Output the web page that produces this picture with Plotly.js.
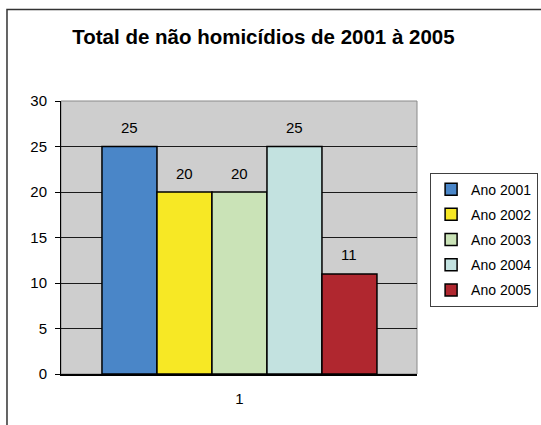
<!DOCTYPE html>
<html>
<head>
<meta charset="utf-8">
<script src="https://cdn.plot.ly/plotly-3.0.1.min.js"></script>
<style>html,body{margin:0;padding:0;background:#fff;}</style>
</head>
<body>
<div id="chart" style="width:541px;height:425px;"></div>
<script>
var categories = ['1'];
var seriesNames = ['Ano 2001', 'Ano 2002', 'Ano 2003', 'Ano 2004', 'Ano 2005'];
var seriesValues = [25, 20, 20, 25, 11];
var seriesColors = ['#4A86C8', '#F7E825', '#CAE3B7', '#C3E2E0', '#B0272F'];
var yTicks = [0, 5, 10, 15, 20, 25, 30];

var FONT = 'Liberation Sans, Arial, sans-serif';

var traces = seriesNames.map(function (name, i) {
  return {
    type: 'bar',
    name: name,
    legendgroup: 'g' + i,
    x: [name],
    y: [seriesValues[i]],
    marker: { color: seriesColors[i], line: { color: '#000', width: 1.5 } },
    hoverinfo: 'name+y'
  };
});

var annotations = seriesNames.map(function (name, i) {
  return {
    x: name, y: seriesValues[i], xref: 'x', yref: 'y',
    text: String(seriesValues[i]), showarrow: false,
    yanchor: 'middle', yshift: 19,
    font: { family: FONT, size: 15, color: '#000' }
  };
});

var layout = {
  width: 541, height: 425,
  margin: { l: 61, r: 124, t: 101, b: 51 },
  paper_bgcolor: '#ffffff',
  plot_bgcolor: '#CECECE',
  font: { family: FONT, size: 15, color: '#000' },
  title: {
    text: '<b>Total de não homicídios de 2001 à 2005</b>',
    font: { family: FONT, size: 20.5, color: '#000' },
    x: 0.487, xref: 'container', xanchor: 'center',
    y: 0.913, yref: 'container', yanchor: 'middle'
  },
  barmode: 'overlay',
  bargap: 0,
  showlegend: true,
  legend: {
    xref: 'container', yref: 'container',
    x: 0.795, y: 0.594, xanchor: 'left', yanchor: 'top',
    bgcolor: '#fff', bordercolor: '#404040', borderwidth: 1,
    font: { family: FONT, size: 14, color: '#000' },
    tracegroupgap: 4
  },
  xaxis: {
    type: 'category',
    categoryorder: 'array', categoryarray: seriesNames,
    range: [-1.245, 5.228],
    tickvals: [seriesNames[2]], ticktext: categories,
    ticks: '', ticklabelstandoff: 10,
    showline: true, linecolor: '#000', linewidth: 1.5,
    showgrid: false, zeroline: false, fixedrange: true,
    automargin: false,
    tickfont: { family: FONT, size: 15, color: '#000' }
  },
  yaxis: {
    range: [0, 30], tickvals: yTicks,
    ticks: 'outside', ticklen: 5, tickcolor: '#000', tickwidth: 1,
    ticklabelstandoff: 5,
    showline: true, linecolor: '#000', linewidth: 1,
    showgrid: true, gridcolor: '#1a1a1a', gridwidth: 1,
    zeroline: false, fixedrange: true,
    automargin: false,
    tickfont: { family: FONT, size: 15, color: '#000' }
  },
  shapes: [
    { type: 'rect', xref: 'paper', yref: 'paper', x0: 0, x1: 1, y0: 0, y1: 1,
      line: { color: '#8a8a8a', width: 1 }, layer: 'below' },
    { type: 'rect', xref: 'paper', yref: 'paper', x0: -0.1517, x1: 1.4, y0: -0.3, y1: 1.335,
      line: { color: '#333', width: 1.5 }, fillcolor: 'rgba(0,0,0,0)', layer: 'above' }
  ],
  annotations: annotations
};

Plotly.newPlot('chart', traces, layout, { displayModeBar: false, staticPlot: true });
</script>
</body>
</html>
